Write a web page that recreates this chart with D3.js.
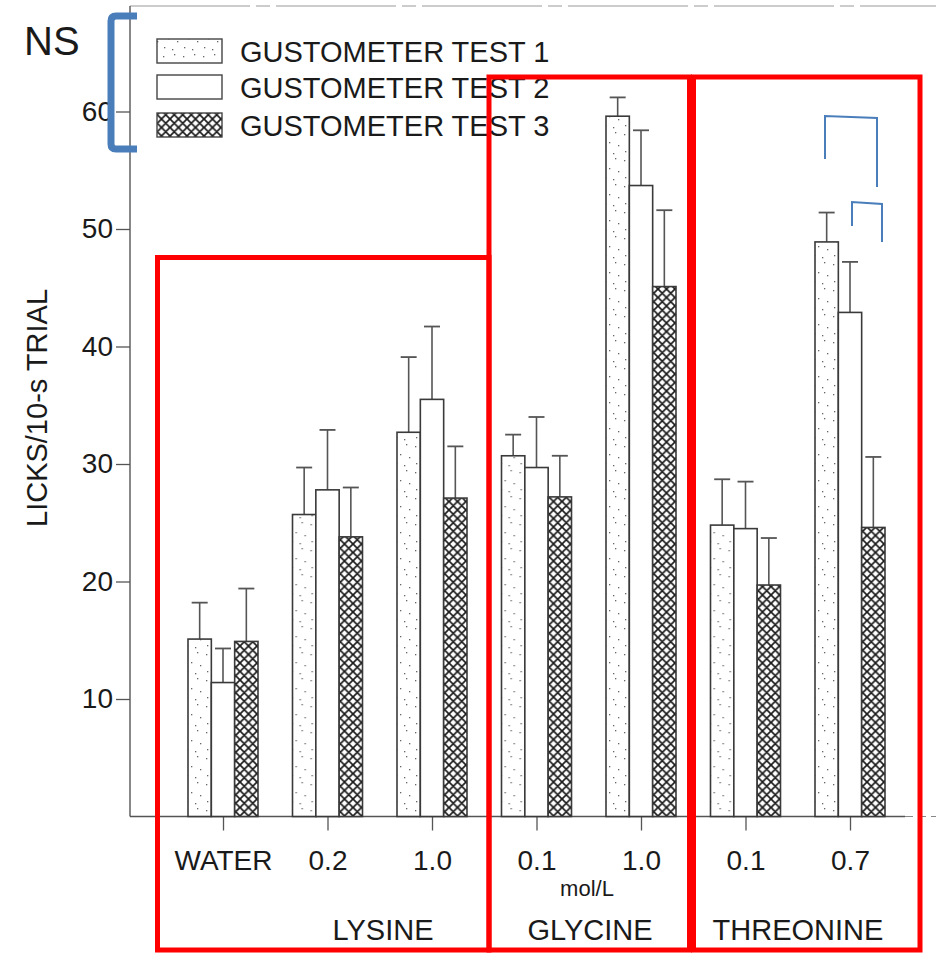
<!DOCTYPE html>
<html>
<head>
<meta charset="utf-8">
<script src="https://cdn.jsdelivr.net/npm/d3@7"></script>
<style>
  html, body { margin: 0; padding: 0; background: #fff; }
  svg { display: block; }
  text { font-family: "Liberation Sans", Arial, Helvetica, sans-serif; fill: #1a1a1a; }
</style>
</head>
<body>
<svg id="chart" width="936" height="953"></svg>
<script>
// ---- data ----
const tickLabels = ["WATER", "0.2", "1.0", "0.1", "1.0", "0.1", "0.7"];
const groupIds = ["water", "lys02", "lys10", "gly01", "gly10", "thr01", "thr07"];
const seriesNames = ["GUSTOMETER TEST 1", "GUSTOMETER TEST 2", "GUSTOMETER TEST 3"];
const test1 = [15.1, 25.7, 32.7, 30.7, 59.6, 24.8, 48.9];
const test1Err = [3.1, 4.0, 6.4, 1.8, 1.6, 3.9, 2.5];
const test2 = [11.4, 27.8, 35.5, 29.7, 53.7, 24.5, 42.9];
const test2Err = [2.9, 5.1, 6.2, 4.3, 4.7, 4.0, 4.3];
const test3 = [14.9, 23.8, 27.1, 27.2, 45.1, 19.7, 24.6];
const test3Err = [4.5, 4.2, 4.4, 3.5, 6.5, 4.0, 6.0];
const yTicks = [10, 20, 30, 40, 50, 60];
const aminoAcids = ["LYSINE", "GLYCINE", "THREONINE"];
const unitLabel = "mol/L";
const nsLabel = "NS";

const values = [test1, test2, test3];
const errors = [test1Err, test2Err, test3Err];

const svg = d3.select("#chart");
const defs = svg.append("defs");

// stipple pattern (test 1) - sparse dots
const stip = defs.append("pattern").attr("id", "stipple")
  .attr("patternUnits", "userSpaceOnUse").attr("width", 20).attr("height", 26);
stip.append("rect").attr("width", 20).attr("height", 26).attr("fill", "#fff");
[[3,4],[14,2],[8,12],[17,15],[4,21],[12,23]].forEach(([x, y]) =>
  stip.append("rect").attr("x", x).attr("y", y).attr("width", 1.3).attr("height", 1.3).attr("fill", "#666"));

// crosshatch pattern (test 3)
const hatch = defs.append("pattern").attr("id", "hatch")
  .attr("patternUnits", "userSpaceOnUse").attr("width", 8.5).attr("height", 8.5);
hatch.append("rect").attr("width", 8.5).attr("height", 8.5).attr("fill", "#fff");
hatch.append("path").attr("d", "M-1,-1 L9.5,9.5 M-1,9.5 L9.5,-1 M-1,7.5 L1,9.5 M7.5,-1 L9.5,1 M-1,1 L1,-1 M7.5,9.5 L9.5,7.5")
  .attr("stroke", "#1a1a1a").attr("stroke-width", 1.7).attr("fill", "none");

const fills = ["url(#stipple)", "#fff", "url(#hatch)"];

// ---- scales ----
const x0 = d3.scalePoint().domain(groupIds).range([223, 850]);
const x1 = d3.scaleBand().domain([0, 1, 2]).range([-35, 35]).paddingInner(0);
const y = d3.scaleLinear().domain([0, 60]).range([816.5, 111.5]);

const axisColor = "#555";

// frame top (dashed in scan)
svg.append("line").attr("x1", 130).attr("x2", 936).attr("y1", 6).attr("y2", 6)
  .attr("stroke", "#999").attr("stroke-width", 1.2).attr("stroke-dasharray", "120,6,14,6");

// y axis
const yAxis = d3.axisLeft(y).tickValues(yTicks).tickSize(14).tickPadding(3).tickFormat(d3.format("d"));
const gy = svg.append("g").attr("transform", "translate(130,0)").call(yAxis);
gy.select(".domain").remove();
gy.selectAll(".tick line").attr("stroke", axisColor).attr("stroke-width", 1.3);
gy.selectAll(".tick text").attr("font-size", 28).attr("fill", "#222")
  .style("font-family", '"Liberation Sans", Arial, sans-serif');
svg.append("line").attr("x1", 130).attr("x2", 130).attr("y1", 6).attr("y2", y(0))
  .attr("stroke", axisColor).attr("stroke-width", 1.4);

// x axis
const xAxis = d3.axisBottom(x0).tickSize(14).tickFormat((d, i) => tickLabels[i]).tickPadding(20);
const gx = svg.append("g").attr("transform", `translate(0,${y(0)})`).call(xAxis);
gx.select(".domain").remove();
gx.selectAll(".tick line").attr("stroke", axisColor).attr("stroke-width", 1.3);
gx.selectAll(".tick text").attr("font-size", 28).attr("fill", "#222").attr("dy", "0.71em")
  .style("font-family", '"Liberation Sans", Arial, sans-serif');
svg.append("line").attr("x1", 130).attr("x2", 905).attr("y1", y(0)).attr("y2", y(0))
  .attr("stroke", axisColor).attr("stroke-width", 1.4);
svg.append("line").attr("x1", 905).attr("x2", 936).attr("y1", y(0)).attr("y2", y(0))
  .attr("stroke", "#888").attr("stroke-width", 1.2).attr("stroke-dasharray", "8,5");

// bars
const groups = svg.append("g").selectAll("g").data(groupIds).join("g")
  .attr("transform", d => `translate(${x0(d)},0)`);

groups.each(function(gid, gi) {
  const g = d3.select(this);
  [0, 1, 2].forEach(s => {
    const v = values[s][gi];
    const e = errors[s][gi];
    const bx = x1(s);
    const bw = x1.bandwidth();
    // error bar
    g.append("line").attr("x1", bx + bw / 2).attr("x2", bx + bw / 2)
      .attr("y1", y(v)).attr("y2", y(v + e)).attr("stroke", "#555").attr("stroke-width", 1.6);
    g.append("line").attr("x1", bx + bw / 2 - 8).attr("x2", bx + bw / 2 + 8)
      .attr("y1", y(v + e)).attr("y2", y(v + e)).attr("stroke", "#555").attr("stroke-width", 1.8);
    g.append("rect").attr("x", bx).attr("width", bw)
      .attr("y", y(v)).attr("height", y(0) - y(v))
      .attr("fill", fills[s]).attr("stroke", "#3a3a3a").attr("stroke-width", 1.6);
  });
});

// legend
const legendRows = [51, 87, 125];
const lg = svg.append("g");
seriesNames.forEach((name, i) => {
  lg.append("rect").attr("x", 157).attr("y", legendRows[i] - 12).attr("width", 65).attr("height", 24)
    .attr("fill", fills[i]).attr("stroke", "#444").attr("stroke-width", 1.4);
  lg.append("text").attr("x", 240).attr("y", legendRows[i] + 11).attr("font-size", 29).text(name);
});

// y title
svg.append("text").attr("transform", "translate(47,408) rotate(-90)")
  .attr("text-anchor", "middle").attr("font-size", 29).text("LICKS/10-s TRIAL");

// unit and amino acid labels
svg.append("text").attr("x", 587).attr("y", 896).attr("text-anchor", "middle").attr("font-size", 22).text(unitLabel);
const aaX = [383, 590, 798];
aminoAcids.forEach((a, i) => {
  svg.append("text").attr("x", aaX[i]).attr("y", 940).attr("text-anchor", "middle").attr("font-size", 29).text(a);
});

// annotations: red boxes
const red = "#ff0000";
[[157.5, 257.5, 489, 950], [489, 77, 689.5, 950], [693.5, 77, 920, 950]].forEach(([a, b, c, d]) => {
  svg.append("rect").attr("x", a).attr("y", b).attr("width", c - a).attr("height", d - b)
    .attr("fill", "none").attr("stroke", red).attr("stroke-width", 5);
});

// blue NS bracket
const blue = "#4a7ebb";
svg.append("path").attr("d", "M137,16 L116,16 Q111,16 111,21 L111,144 Q111,149 116,149 L137,149")
  .attr("fill", "none").attr("stroke", blue).attr("stroke-width", 7).attr("stroke-linecap", "butt");
svg.append("text").attr("x", 24).attr("y", 55).attr("font-size", 40).attr("fill", "#000")
  .style("font-family", '"Liberation Sans", Arial, sans-serif').text(nsLabel);

// small significance brackets
svg.append("path").attr("d", "M825,159 L825,116 L877,118 L877,187")
  .attr("fill", "none").attr("stroke", blue).attr("stroke-width", 2);
svg.append("path").attr("d", "M852,226 L852,202 L882,204 L882,242")
  .attr("fill", "none").attr("stroke", blue).attr("stroke-width", 2);
</script>
</body>
</html>
